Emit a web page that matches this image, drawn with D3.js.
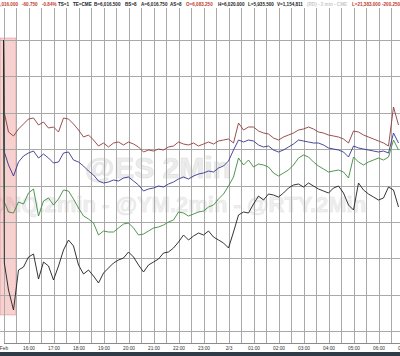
<!DOCTYPE html>
<html>
<head>
<meta charset="utf-8">
<script src="https://cdn.jsdelivr.net/npm/d3@7/dist/d3.min.js"></script>
<style>
  html, body { margin: 0; padding: 0; background: #fff; }
  svg { display: block; }
</style>
</head>
<body>
<div id="chart"></div>
<script>
// header quote strip (text, colour)
var headerText   = ["6,016.000", "-60.750", "-0.84%", "TS=1", "TE=CME", "B=6,016.500", "BS=8", "A=6,016.750", "AS=8",
                    "O=6,083.250", "H=6,020.000", "L=5,935.500", "V=1,154,811", "(RD) - 2 min - CME", "L=21,383.000", "-200.250"];
var headerColors = ["#c0392b", "#c0392b", "#c0392b", "#222", "#222", "#222", "#222", "#222", "#222",
                    "#c0392b", "#222", "#222", "#222", "#c8c8c8", "#c0392b", "#c0392b"];

// x axis labels, one per hour starting 15:00
var hourLabels = ["Feb", "16:00", "17:00", "18:00", "19:00", "20:00", "21:00", "22:00", "23:00",
                  "2/3", "01:00", "02:00", "03:00", "04:00", "05:00", "06:00", "07:00"];

// y grid levels (relative units)
var gridLevels = [0, 3.64, 7.28, 10.91, 14.55, 18.19, 21.83, 25.46, 29.1];

// minutes after 15:00 for each sample
var sampleMinutes = [0, 2].concat(d3.range(12, 960, 12));

var nqValues = [29.1, 21.8,
  19.9, 19.5, 20.2, 20.7, 21.2, 21.3, 20.6, 20.9, 20.3, 20.4, 19.9, 21.3, 21.2, 20.7, 20.1, 19.4, 19.6, 19.1, 18.5, 18.8,
  18.4, 18.8, 18.9, 18.6, 18.9, 18.7, 18.4, 17.9, 18.1, 18.0, 18.2, 18.1, 18.4, 18.5, 18.9, 18.7, 18.6, 18.8, 18.5, 18.7,
  18.9, 18.7, 19.0, 19.1, 19.2, 18.8, 20.8, 20.1, 20.4, 20.4, 20.0, 19.8, 19.7, 19.3, 19.1, 19.4, 19.6, 19.8, 20.1, 20.2,
  20.4, 20.2, 19.9, 19.8, 19.6, 19.5, 19.4, 19.2, 18.8, 20.0, 19.9, 19.6, 19.4, 19.2, 19.0, 18.8, 18.5, 22.4, 20.6];

var esValues = [29.1, 17.9,
  16.6, 15.5, 16.9, 17.5, 17.8, 18.0, 17.3, 17.7, 17.3, 16.8, 16.9, 17.8, 17.9, 17.1, 16.9, 16.5, 16.0, 15.6, 15.0, 14.8,
  14.9, 15.1, 15.0, 15.3, 15.4, 15.0, 14.6, 14.0, 14.2, 14.3, 14.5, 14.4, 14.7, 14.9, 15.2, 15.4, 15.2, 15.5, 15.7, 15.8,
  16.0, 15.9, 16.3, 16.5, 17.0, 18.1, 19.1, 18.9, 19.1, 19.0, 18.6, 18.4, 18.5, 18.1, 17.9, 18.1, 18.4, 18.7, 19.1, 19.0,
  18.9, 18.8, 18.8, 18.6, 18.3, 18.2, 18.1, 17.9, 17.4, 18.5, 18.3, 18.2, 18.1, 18.0, 17.9, 18.0, 17.8, 19.8, 18.8];

var ymValues = [29.1, 12.9,
  11.9, 11.8, 12.9, 12.7, 13.8, 14.2, 11.5, 13.0, 13.3, 12.6, 13.2, 14.1, 14.0, 13.2, 12.3, 11.5, 11.2, 10.8, 9.6, 10.0,
  9.9, 9.9, 10.3, 10.7, 10.8, 10.3, 9.6, 9.7, 10.0, 10.3, 10.4, 10.6, 10.9, 11.1, 11.9, 11.8, 11.5, 11.7, 11.9, 12.0,
  12.4, 12.6, 13.2, 13.7, 14.5, 15.4, 17.3, 16.6, 17.1, 16.4, 16.7, 16.6, 16.4, 15.8, 15.5, 15.8, 16.1, 16.6, 17.3, 17.6,
  17.4, 16.9, 16.5, 16.2, 15.9, 16.0, 16.1, 15.9, 15.3, 17.4, 16.9, 16.6, 16.9, 17.1, 17.3, 17.1, 17.4, 19.1, 18.1];

var rtyValues = [29.1, 6.8,
  4.1, 2.1, 6.1, 6.4, 7.4, 7.7, 5.2, 6.9, 6.5, 5.1, 6.5, 8.1, 9.1, 8.5, 6.6, 5.7, 6.1, 5.5, 4.8, 5.8,
  6.3, 6.8, 7.1, 7.3, 7.9, 7.4, 6.6, 5.9, 6.6, 6.9, 7.2, 7.8, 7.9, 8.3, 8.9, 9.6, 9.1, 9.5, 9.8, 9.6,
  10.0, 9.4, 9.1, 8.8, 8.3, 9.9, 11.6, 11.9, 11.8, 12.7, 13.5, 13.1, 13.7, 13.6, 13.4, 13.8, 14.3, 14.6, 14.7, 14.4,
  14.8, 14.5, 14.2, 14.0, 13.8, 14.3, 14.5, 13.8, 12.6, 12.1, 14.8, 14.1, 13.7, 13.4, 13.1, 13.3, 14.4, 14.1, 12.4];

var seriesNames  = ["@NQ", "@ES", "@YM", "@RTY"];
var seriesValues = [nqValues, esValues, ymValues, rtyValues];
var seriesColors = ["#8e3b3b", "#34348f", "#3d8a3d", "#1e1e1e"];

// highlighted opening range (minutes, value levels)
var bandMinutes = [-8, 30];
var bandLevels  = [1.6, 29.3];

var width = 400, height = 356;
var base = new Date(2025, 1, 2, 15, 0);
function atMinute(m) { return new Date(base.getTime() + m * 60000); }

var svg = d3.select("#chart").append("svg")
    .attr("width", width)
    .attr("height", height);

var x = d3.scaleTime()
    .domain([base, atMinute(16 * 60)])
    .range([3.5, 403.5]);

var y = d3.scaleLinear()
    .domain([0, 29.1])
    .range([331, 40]);

// watermarks
svg.append("text")
    .attr("x", 85).attr("y", 178)
    .attr("font-family", "Liberation Sans, Arial, sans-serif")
    .attr("font-size", 30).attr("font-weight", "bold")
    .attr("fill", "#ececec").attr("stroke", "#e0e0e0").attr("stroke-width", 0.6)
    .text("@ES 2Min");

svg.append("text")
    .attr("x", -16).attr("y", 212)
    .attr("font-family", "Liberation Sans, Arial, sans-serif")
    .attr("font-size", 22).attr("font-weight", "bold")
    .attr("fill", "#efefef").attr("stroke", "#e4e4e4").attr("stroke-width", 0.5)
    .text("@NQ.2min - @YM.2min - @RTY.2Min");

// band
svg.append("rect")
    .attr("x", x(atMinute(bandMinutes[0])))
    .attr("y", y(bandLevels[1]))
    .attr("width", x(atMinute(bandMinutes[1])) - x(atMinute(bandMinutes[0])))
    .attr("height", y(bandLevels[0]) - y(bandLevels[1]))
    .attr("fill", "rgba(232,120,120,0.35)")
    .attr("stroke", "rgba(215,110,110,0.6)")
    .attr("stroke-width", 0.6);

// grid
var halfHours = d3.timeMinute.every(30).range(base, atMinute(16 * 60 + 1));
svg.append("g").selectAll("line")
    .data(halfHours)
    .enter().append("line")
    .attr("x1", function(d) { return Math.round(x(d)) + 0.5; })
    .attr("x2", function(d) { return Math.round(x(d)) + 0.5; })
    .attr("y1", 8).attr("y2", 343)
    .attr("stroke", "#a9a9a9").attr("stroke-width", 1);

svg.append("g").selectAll("line")
    .data(gridLevels)
    .enter().append("line")
    .attr("x1", 0).attr("x2", width)
    .attr("y1", function(d) { return Math.round(y(d)) + 0.5; })
    .attr("y2", function(d) { return Math.round(y(d)) + 0.5; })
    .attr("stroke", "#a9a9a9").attr("stroke-width", 1);

// series
var line = d3.line()
    .x(function(d) { return x(atMinute(d[0])); })
    .y(function(d) { return y(d[1]); });

seriesValues.forEach(function(vals, i) {
    var pts = vals.map(function(v, j) { return [sampleMinutes[j], v]; })
        .filter(function(d) { return d[0] !== undefined; });
    svg.append("path")
        .datum(pts)
        .attr("class", "series " + seriesNames[i])
        .attr("fill", "none")
        .attr("stroke", seriesColors[i])
        .attr("stroke-width", 0.9)
        .attr("stroke-linejoin", "round")
        .attr("d", line);
});

// x axis
var hourTicks = d3.timeHour.every(1).range(base, atMinute(16 * 60 + 1));
var xAxis = svg.append("g")
    .attr("transform", "translate(0,343)")
    .call(d3.axisBottom(x).tickValues(hourTicks).tickSize(0)
        .tickFormat(function(d, i) { return hourLabels[i]; }));
xAxis.select(".domain").attr("stroke", "#8a8a8a").attr("stroke-width", 1);
xAxis.selectAll("text")
    .attr("dy", 0).attr("y", 6.5)
    .attr("font-family", "Liberation Sans, Arial, sans-serif")
    .attr("font-size", 4.8)
    .attr("fill", "#333");

svg.append("rect")
    .attr("x", 0).attr("y", 352)
    .attr("width", width).attr("height", 4)
    .attr("fill", "#2f3c47");

// header
var headerX = [18, 22, 42, 58, 73, 94, 125, 141, 170, 186, 218, 248, 277, 307, 352, 382];
svg.append("g").selectAll("text")
    .data(headerText)
    .enter().append("text")
    .attr("x", function(d, i) { return headerX[i]; })
    .attr("y", 6)
    .attr("text-anchor", function(d, i) { return i === 0 ? "end" : "start"; })
    .attr("font-family", "Liberation Sans, Arial, sans-serif")
    .attr("font-size", 4.6)
    .attr("font-weight", "bold")
    .attr("fill", function(d, i) { return headerColors[i]; })
    .text(function(d) { return d; });
</script>
</body>
</html>
